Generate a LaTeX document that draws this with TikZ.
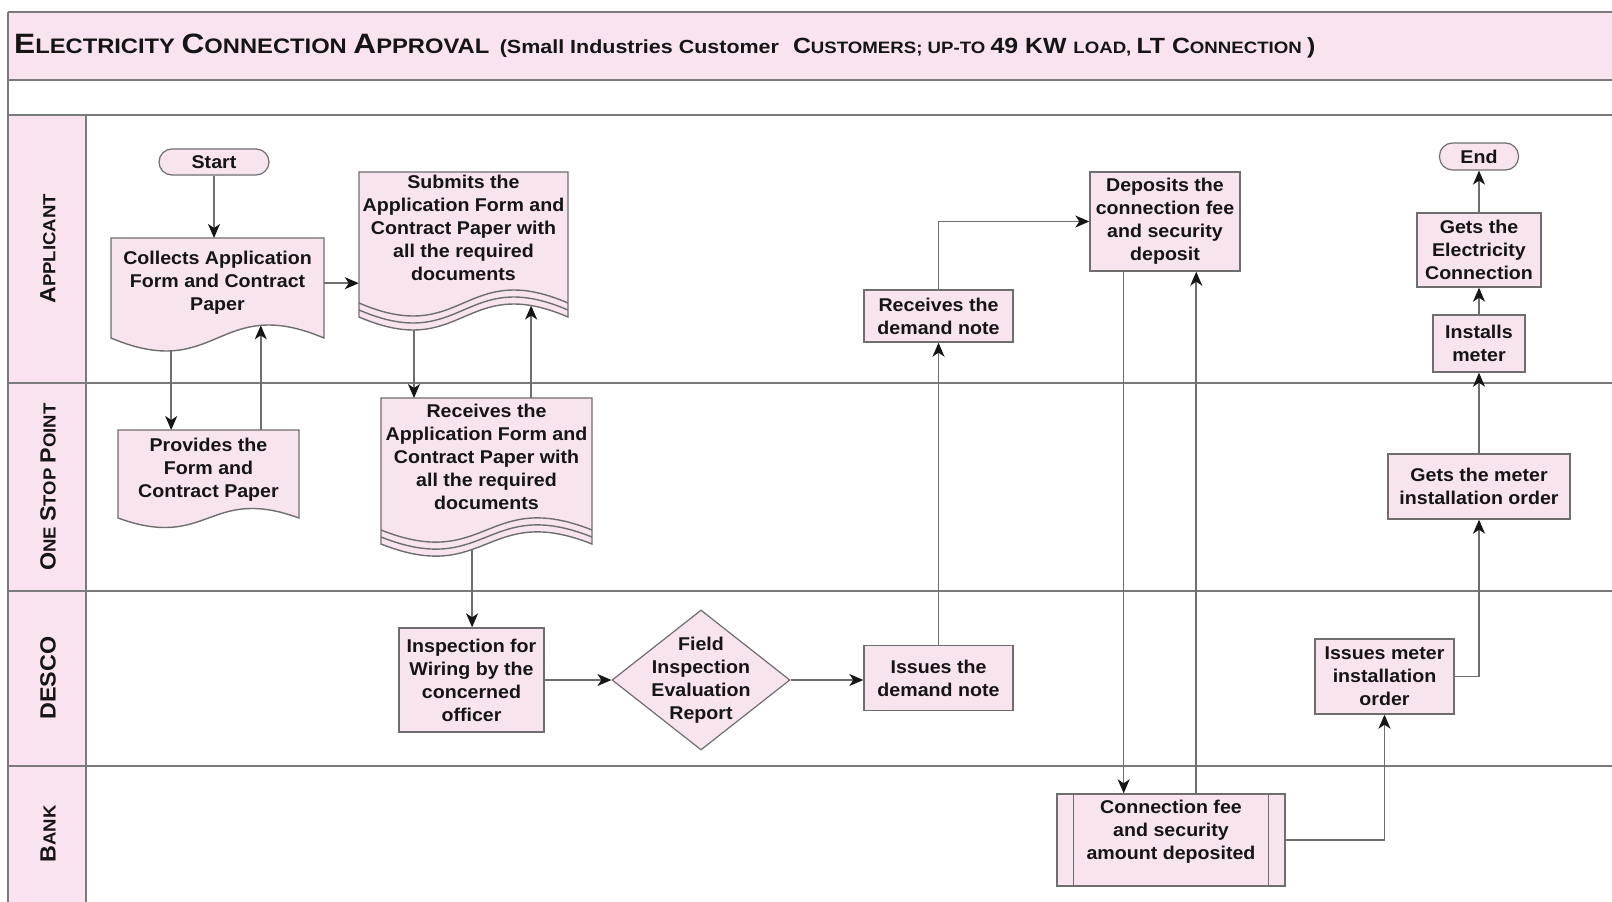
\documentclass[tikz,border=0pt]{standalone}
\usepackage{fontspec}
\setmainfont[FakeStretch=1.06]{Liberation Sans}
\newfontfamily\titlefont[FakeStretch=1.13]{Liberation Sans}
\usetikzlibrary{arrows.meta,shapes.geometric,calc}
\pgfdeclarelayer{bg}
\pgfdeclarelayer{conn}
\pgfdeclarelayer{shp}
\pgfsetlayers{bg,conn,shp,main}
\definecolor{pinkbg}{HTML}{FAE3F1}
\definecolor{nodefill}{HTML}{F8E4EF}
\definecolor{edgegray}{HTML}{6E6E6E}
\definecolor{lanegray}{HTML}{7A7A7A}
\definecolor{txtc}{HTML}{151515}
\newcommand\tB[1]{{\fontsize{28}{28}\selectfont #1}}
\newcommand\tS[1]{{\fontsize{21}{21}\selectfont #1}}
\newcommand\uB[1]{{\fontsize{22}{22}\selectfont #1}}
\newcommand\uS[1]{{\fontsize{16.5}{16.5}\selectfont #1}}
\newcommand\lB[1]{{\fontsize{22}{22}\selectfont #1}}
\newcommand\lS[1]{{\fontsize{17.5}{17.5}\selectfont #1}}
\begin{document}
\begin{tikzpicture}[x=1pt,y=-1pt,
  txt/.style={font=\bfseries\fontsize{18.5}{23}\selectfont, text=txtc, align=center, inner sep=0pt},
  procbox/.style={txt, draw=edgegray, fill=nodefill, line width=1.4pt, rectangle},
  termbox/.style={txt, draw=edgegray, fill=nodefill, line width=1.2pt, rounded corners=13pt},
  decbox/.style={draw=edgegray, fill=nodefill, line width=1.2pt, diamond, inner sep=0pt},
  docfill/.style={draw=edgegray, fill=nodefill, line width=1.4pt},
  wave/.style={draw=edgegray, line width=1.4pt},
  lane/.style={draw=lanegray, line width=1.6pt},
  flow/.style={draw=edgegray, line width=1.5pt, -{Stealth[length=14pt,width=12pt,inset=4pt,color=txtc]}},
  lanelabel/.style={font=\bfseries, text=txtc, rotate=90, inner sep=0pt},
]
\useasboundingbox (0,0) rectangle (1612,902);

% ---------- lanes and header ----------
\begin{pgfonlayer}{bg}
\fill[white] (0,0) rectangle (1612,902);
\fill[pinkbg] (8,12) rectangle (1612,80);
\fill[pinkbg] (8,115) rectangle (86,902);
\draw[lane] (8,12) -- (1612,12);
\draw[lane] (8,80) -- (1612,80);
\draw[lane] (8,115) -- (1612,115);
\draw[lane] (8,383) -- (1612,383);
\draw[lane] (8,591) -- (1612,591);
\draw[lane] (8,766) -- (1612,766);
\draw[lane] (8,12) -- (8,902);
\draw[lane] (86,115) -- (86,902);
\end{pgfonlayer}

\node[anchor=west, font=\titlefont\bfseries, text=txtc, inner sep=0pt] (title) at (14,46)
  {\tB{E}\tS{LECTRICITY }\tB{C}\tS{ONNECTION }\tB{A}\tS{PPROVAL }\hspace{4pt}{\fontsize{19}{19}\selectfont(Small Industries Customer}\hspace{14pt}\uB{C}\uS{USTOMERS; UP-TO }\uB{49 KW }\uS{LOAD, }\uB{LT C}\uS{ONNECTION }\uB{)}};

\node[lanelabel] (lnA) at (48,249) {\lB{A}\lS{PPLICANT}};
\node[lanelabel] (lnO) at (48,487) {\lB{O}\lS{NE }\lB{S}\lS{TOP }\lB{P}\lS{OINT}};
\node[lanelabel] (lnD) at (48,678) {\lB{DESCO}};
\node[lanelabel] (lnB) at (48,834) {\lB{B}\lS{ANK}};

% ---------- nodes ----------
\node[termbox, minimum width=110pt, minimum height=26pt] (start) at (214,162) {Start};

\node[txt, minimum width=213pt, minimum height=90pt, anchor=north] (collect) at (217.5,238)
  {Collects Application\\Form and Contract\\Paper};
\node[txt, minimum width=181pt, minimum height=80pt, anchor=north] (provide) at (208.5,430)
  {Provides the\\Form and\\Contract Paper};
\node[txt, minimum width=209pt, minimum height=112pt, anchor=north] (submit) at (463.5,172)
  {Submits the\\Application Form and\\Contract Paper with\\all the required\\documents};
\node[txt, minimum width=211pt, minimum height=117pt, anchor=north] (receive) at (486.5,398)
  {Receives the\\Application Form and\\Contract Paper with\\all the required\\documents};

\node[procbox, minimum width=145pt, minimum height=104pt] (inspect) at (471.5,680)
  {Inspection for\\Wiring by the\\concerned\\officer};
\node[decbox, minimum width=178pt, minimum height=140pt,
  label={[txt]center:Field\\Inspection\\Evaluation\\Report}] (field) at (701,680) {};
\node[procbox, minimum width=149pt, minimum height=65pt] (issdn) at (938.5,678) {Issues the\\demand note};
\node[procbox, minimum width=149pt, minimum height=52pt] (rcvdn) at (938.5,316) {Receives the\\demand note};
\node[procbox, minimum width=150pt, minimum height=99pt] (deposit) at (1165,221.5)
  {Deposits the\\connection fee\\and security\\deposit};
\node[procbox, minimum width=228pt, minimum height=92pt,
  label={[txt, yshift=8pt]center:Connection fee\\and security\\amount deposited}] (confee) at (1171,840) {};
\node[procbox, minimum width=139pt, minimum height=75pt] (issmo) at (1384.5,676.5)
  {Issues meter\\installation\\order};
\node[procbox, minimum width=182pt, minimum height=65pt] (getmo) at (1479,486.5)
  {Gets the meter\\installation order};
\node[procbox, minimum width=92pt, minimum height=57pt] (install) at (1479,343.5) {Installs\\meter};
\node[procbox, minimum width=124pt, minimum height=74pt] (getel) at (1479,250)
  {Gets the\\Electricity\\Connection};
\node[termbox, minimum width=79pt, minimum height=27pt] (endn) at (1479,156.5) {End};

% ---------- drawn shapes ----------
\begin{pgfonlayer}{shp}
\path[docfill] (111,238) -- (324,238) -- (324,338)
  .. controls (217.5,293) and (217.5,383) .. (111,338)
  coordinate[pos=0.25] (colPk) coordinate[pos=0.765] (colTr) -- cycle;
\path[docfill] (118,430) -- (299,430) -- (299,518)
  .. controls (208.5,485) and (208.5,551) .. (118,518) -- cycle;
\path[docfill] (359,172) -- (568,172) -- (568,317)
  .. controls (463.5,272) and (463.5,362) .. (359,317)
  coordinate[pos=0.134] (sbPk) coordinate[pos=0.785] (sbTr) -- cycle;
\path[wave] (568,303) .. controls (463.5,258) and (463.5,348) .. (359,303);
\path[wave] (568,310) .. controls (463.5,265) and (463.5,355) .. (359,310);
\path[docfill] (381,398) -- (592,398) -- (592,544)
  .. controls (486.5,502) and (486.5,586) .. (381,544)
  coordinate[pos=0.59] (rcvBt) -- cycle;
\path[wave] (592,530) .. controls (486.5,488) and (486.5,572) .. (381,530);
\path[wave] (592,537) .. controls (486.5,495) and (486.5,579) .. (381,537);
\end{pgfonlayer}
\draw[wave] ([xshift=17pt]confee.north west) -- ([xshift=17pt]confee.south west);
\draw[wave] ([xshift=-17pt]confee.north east) -- ([xshift=-17pt]confee.south east);

% ---------- connectors ----------
\coordinate (depA) at ($(deposit.south west)!0.227!(deposit.south east)$);
\coordinate (cfA) at ($(confee.north west)!0.61!(confee.north east)$);
\begin{pgfonlayer}{conn}
\draw[flow] (start.south) -- (start.south |- collect.north);
\draw[flow] (collect.east) -- (collect.east -| submit.west);
\draw[flow] (colTr) -- (colTr |- provide.north);
\draw[flow] (provide.north -| colPk) -- (colPk);
\draw[flow] (sbTr) -- (sbTr |- receive.north);
\draw[flow] (receive.north -| sbPk) -- (sbPk);
\draw[flow] (rcvBt) -- (rcvBt |- inspect.north);
\draw[flow] (inspect.east) -- (field.west);
\draw[flow] (field.east) -- (field.east -| issdn.west);
\draw[flow] (issdn.north) -- (rcvdn.south);
\draw[flow] (rcvdn.north) |- (deposit.west);
\draw[flow] (depA) -- (depA |- confee.north);
\draw[flow] (cfA) -- (cfA |- deposit.south);
\draw[flow] (confee.east) -| (issmo.south);
\draw[flow] (issmo.east) -| (getmo.south);
\draw[flow] (getmo.north) -- (install.south);
\draw[flow] (install.north) -- (getel.south);
\draw[flow] (getel.north) -- (endn.south);
\end{pgfonlayer}
\end{tikzpicture}
\end{document}
